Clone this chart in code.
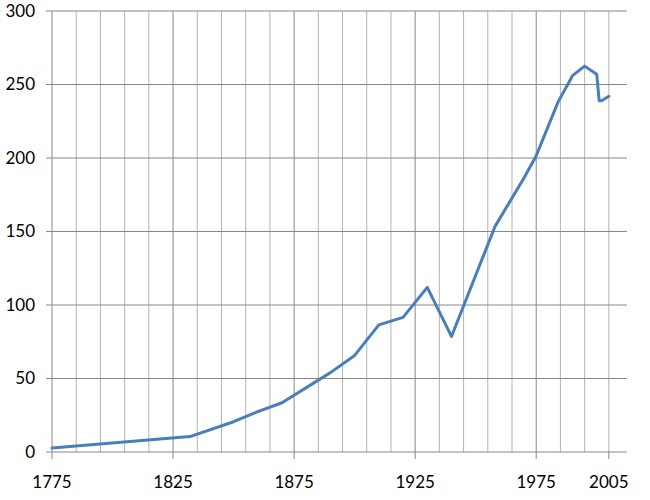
<!DOCTYPE html>
<html>
<head>
<meta charset="utf-8">
<script src="https://cdn.jsdelivr.net/npm/d3@7"></script>
<style>
	body { margin: 0; background: #fff; }
	text { font-family: Lato, "Open Sans", sans-serif; font-size: 17px; fill: #000; }
</style>
</head>
<body>
<div id="chart"></div>
<script>
// series
const years = [1775, 1832, 1850, 1860, 1870, 1890, 1900, 1910, 1920, 1930, 1940, 1958, 1970, 1975, 1984, 1990, 1995, 2000, 2001, 2002, 2005];
const values = [2.7, 10.5, 20.6, 27.5, 33.5, 54, 65.7, 86.5, 91.6, 112, 78.6, 153.5, 186.5, 201.5, 238, 256, 262.5, 257, 239, 239, 242];

// axis labels
const xLabels = [1775, 1825, 1875, 1925, 1975, 2005];
const xMajor = [1775, 1825, 1875, 1925, 1975];
const yTicks = [0, 50, 100, 150, 200, 250, 300];

const width = 650;
const height = 500;
const margin = { top: 11, right: 23, bottom: 48, left: 52 };

const svg = d3
	.select("#chart")
	.append("svg")
	.attr("width", width)
	.attr("height", height);

const x = d3
	.scaleLinear()
	.domain([1775, 2012.5])
	.range([margin.left, width - margin.right]);

const y = d3
	.scaleLinear()
	.domain([0, 300])
	.range([height - margin.bottom, margin.top]);

// minor vertical gridlines, every ten years
svg.append("g")
	.selectAll("line")
	.data(d3.range(1785, 2006, 10).filter((d) => !xMajor.includes(d)))
	.join("line")
	.attr("x1", (d) => x(d))
	.attr("x2", (d) => x(d))
	.attr("y1", y(300))
	.attr("y2", y(0))
	.attr("stroke", "#b4b4b4")
	.attr("stroke-width", 1);

// major vertical gridlines
svg.append("g")
	.selectAll("line")
	.data(xMajor)
	.join("line")
	.attr("x1", (d) => x(d))
	.attr("x2", (d) => x(d))
	.attr("y1", y(300))
	.attr("y2", y(0))
	.attr("stroke", "#888")
	.attr("stroke-width", 1);

// horizontal gridlines with the small tick left of the axis
svg.append("g")
	.selectAll("line")
	.data(yTicks)
	.join("line")
	.attr("x1", margin.left - 6)
	.attr("x2", width - margin.right)
	.attr("y1", (d) => y(d))
	.attr("y2", (d) => y(d))
	.attr("stroke", "#888")
	.attr("stroke-width", 1);

// tick marks under the labelled years
svg.append("g")
	.selectAll("line")
	.data(xLabels)
	.join("line")
	.attr("x1", (d) => x(d))
	.attr("x2", (d) => x(d))
	.attr("y1", y(0))
	.attr("y2", y(0) + 7)
	.attr("stroke", "#888")
	.attr("stroke-width", 1);

svg.append("g")
	.selectAll("text")
	.data(yTicks)
	.join("text")
	.attr("x", 35)
	.attr("y", (d) => y(d))
	.attr("dy", "0.35em")
	.attr("text-anchor", "end")
	.text((d) => d);

svg.append("g")
	.selectAll("text")
	.data(xLabels)
	.join("text")
	.attr("x", (d) => x(d))
	.attr("y", 488)
	.attr("text-anchor", "middle")
	.text((d) => d);

const line = d3
	.line()
	.x((d, i) => x(years[i]))
	.y((d) => y(d));

svg.append("path")
	.datum(values)
	.attr("fill", "none")
	.attr("stroke", "#4a7ebb")
	.attr("stroke-width", 3)
	.attr("stroke-linejoin", "round")
	.attr("stroke-linecap", "round")
	.attr("d", line);
</script>
</body>
</html>
